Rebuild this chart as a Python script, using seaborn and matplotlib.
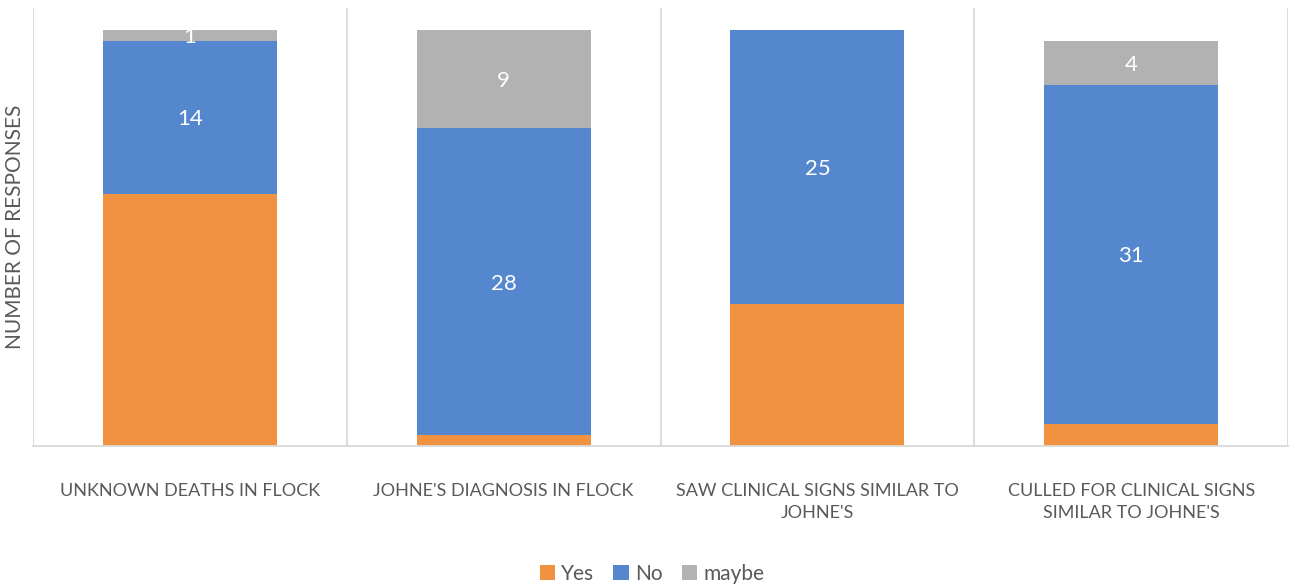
import matplotlib
matplotlib.use("Agg")
import matplotlib.pyplot as plt
import seaborn as sns
import numpy as np
import pandas as pd
from matplotlib.patches import Patch

categories = ["UNKNOWN DEATHS IN FLOCK", "JOHNE'S DIAGNOSIS IN FLOCK",
              "SAW CLINICAL SIGNS SIMILAR TO\nJOHNE'S",
              "CULLED FOR CLINICAL SIGNS\nSIMILAR TO JOHNE'S"]
yes_vals = [23, 1, 13, 2]
no_vals = [14, 28, 25, 31]
maybe_vals = [1, 9, 0, 4]
series_names = ["Yes", "No", "maybe"]
colors = {"Yes": "#F19240", "No": "#5587CF", "maybe": "#B2B2B2"}

sns.set_style("white")
plt.rcParams['font.family'] = ['Lato', 'DejaVu Sans']

fig = plt.figure(figsize=(13.04, 5.88), dpi=100)
ax = fig.add_axes([33/1304, 1-446/588, (1288-33)/1304, (446-8)/588])

yes = np.array(yes_vals)
no = np.array(no_vals)
maybe = np.array(maybe_vals)
c1 = yes
c2 = yes + no
c3 = yes + no + maybe

df = pd.DataFrame({"cat": categories, "c1": c1, "c2": c2, "c3": c3})
w = 0.555
sns.barplot(data=df, x="cat", y="c3", color=colors["maybe"], width=w, ax=ax,
            saturation=1, linewidth=0)
sns.barplot(data=df, x="cat", y="c2", color=colors["No"], width=w, ax=ax,
            saturation=1, linewidth=0)
sns.barplot(data=df, x="cat", y="c1", color=colors["Yes"], width=w, ax=ax,
            saturation=1, linewidth=0)

for i in range(len(categories)):
    if no[i] > 0:
        ax.text(i, yes[i] + no[i] / 2, str(no[i]), ha="center", va="center_baseline",
                color="white", fontsize=16)
    if maybe[i] > 0:
        ax.text(i, c2[i] + maybe[i] / 2, str(maybe[i]), ha="center", va="center_baseline",
                color="white", fontsize=16)

ax.set_xlim(-0.5, len(categories) - 0.5)
ax.set_ylim(0, 40)
for b in np.arange(-0.5, len(categories), 1.0):
    ax.axvline(b, color="#D9D9D9", lw=1.3, zorder=0)
for s in ["top", "right", "left"]:
    ax.spines[s].set_visible(False)
ax.spines["bottom"].set_color("#D9D9D9")
ax.spines["bottom"].set_linewidth(1.3)
ax.set_yticks([])
ax.tick_params(axis="x", length=0, pad=27, labelsize=13, labelcolor="#595959")
for lbl in ax.get_xticklabels():
    lbl.set_linespacing(1.45)
ax.set_xlabel("")
ax.set_ylabel("NUMBER OF RESPONSES", fontsize=15, color="#595959", labelpad=6)

handles = [Patch(facecolor=colors[n], edgecolor="none", label=n) for n in series_names]
fig.legend(handles=handles, loc="center", bbox_to_anchor=(0.5, 1-574/588), ncol=3,
           frameon=False, fontsize=15, labelcolor="#595959",
           handlelength=0.75, handleheight=0.75, handletextpad=0.3, columnspacing=0.9)

fig.savefig("out.png", dpi=100)
